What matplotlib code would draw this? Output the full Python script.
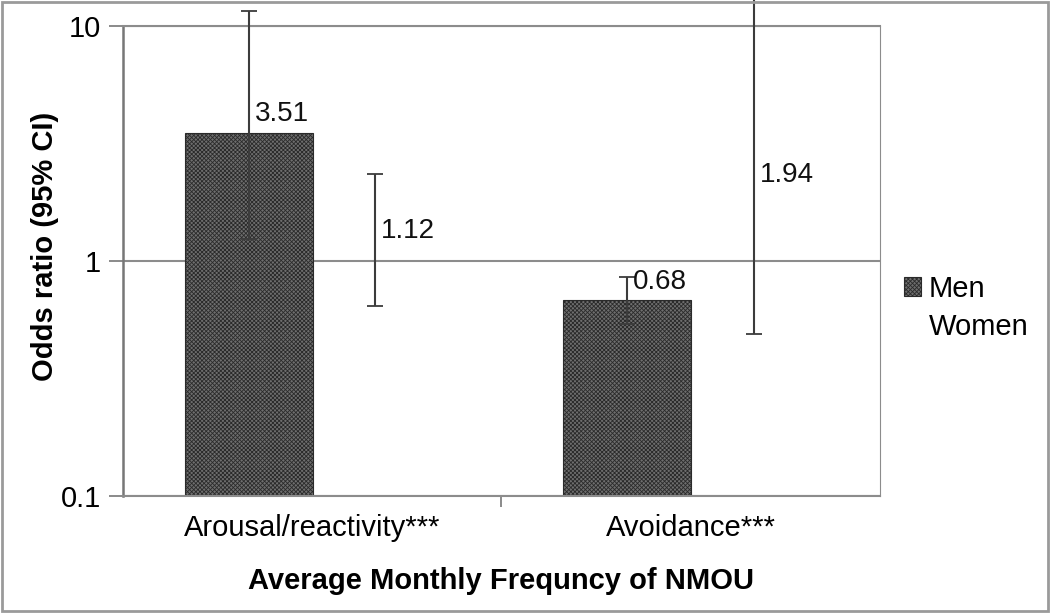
import numpy as np
import matplotlib
matplotlib.use('Agg')
import matplotlib.pyplot as plt
from matplotlib.patches import Rectangle

plt.rcParams['font.family'] = ['Liberation Sans', 'DejaVu Sans']
plt.rcParams['hatch.linewidth'] = 0.6

categorias = ['Arousal/reactivity***', 'Avoidance***']
grupos = ['Men', 'Women']
or_men = [3.51, 0.68]
ci_men_lo = [1.24, 0.54]
ci_men_hi = [11.6, 0.855]
or_women = [1.12, 1.94]
ci_women_lo = [0.645, 0.49]
ci_women_hi = [2.34, 14.0]

x = np.arange(len(categorias))
larg = 0.338
desl = 0.167
base = 0.1  # eixo log comeca em 0.1

fig = plt.figure(figsize=(10.5, 6.13), dpi=100)
ax = fig.add_axes([0.117, 0.191, 0.721, 0.767])

# barras dos homens (hachuradas) e das mulheres (sem preenchimento)
ax.bar(x - desl, np.array(or_men) - base, width=larg, bottom=base, facecolor='#6e6e6e',
       edgecolor='#2a2a2a', hatch='xxxxxxxx', linewidth=0.8, label='Men', zorder=2)
ax.bar(x + desl, np.array(or_women) - base, width=larg, bottom=base, facecolor='none',
       edgecolor='none', label='Women', zorder=2)

# barras de erro (IC 95%)
for xs, v, lo, hi in [(x - desl, or_men, ci_men_lo, ci_men_hi),
                      (x + desl, or_women, ci_women_lo, ci_women_hi)]:
    v = np.array(v)
    err = [v - np.array(lo), np.array(hi) - v]
    eb = ax.errorbar(xs, v, yerr=err, fmt='none', ecolor='#3c3c3c',
                     elinewidth=1.5, capsize=5.5, capthick=1.3, zorder=3)
    for art in eb.lines[1] + eb.lines[2]:
        art.set_clip_on(False)

# rotulos de valor
for xs, v in [(x - desl, or_men), (x + desl, or_women)]:
    for xi, vi in zip(xs, v):
        ax.annotate(f'{vi:.2f}', (xi, vi), xytext=(4, 4), textcoords='offset points',
                    ha='left', va='bottom', fontsize=20, color='#111111', zorder=4)

ax.set_yscale('log')
ax.set_ylim(0.1, 10)
ax.set_xlim(-0.5, 1.5)
ax.set_yticks([0.1, 1, 10])
ax.set_yticklabels(['0.1', '1', '10'])
ax.yaxis.set_minor_locator(matplotlib.ticker.NullLocator())
ax.set_xticks(x)
ax.set_xticklabels(categorias)
ax.set_xticks([0.5], minor=True)
ax.tick_params(axis='x', which='major', length=0, labelsize=21, pad=13)
ax.tick_params(axis='x', which='minor', length=8, color='#777777', width=1.2)
ax.tick_params(axis='y', which='major', length=10, color='#777777', width=1.2,
               labelsize=21, pad=6)
ax.grid(axis='y', which='major', color='#8c8c8c', lw=1.5, zorder=0)

for lado in ['top', 'right', 'bottom', 'left']:
    ax.spines[lado].set_color('#8c8c8c')
ax.spines['left'].set_color('#777777')
ax.spines['left'].set_linewidth(1.8)
ax.spines['bottom'].set_linewidth(1.5)
ax.spines['right'].set_linewidth(0.8)
ax.spines['top'].set_linewidth(1.5)

ax.set_ylabel('Odds ratio (95% CI)', fontsize=21, fontweight='bold')
ax.yaxis.set_label_coords(-0.085, 0.53)
ax.set_xlabel('Average Monthly Frequncy of NMOU', fontsize=21, fontweight='bold', labelpad=18)

leg = fig.legend(loc='center left', bbox_to_anchor=(0.847, 0.498), frameon=False,
                 fontsize=21, handlelength=0.6, handleheight=0.6, handletextpad=0.25,
                 labelspacing=0.35, borderpad=0)

# moldura em volta do grafico
fig.patches.append(Rectangle((0.002, 0.003), 0.996, 0.994, transform=fig.transFigure,
                             fill=False, edgecolor='#9a9a9a', lw=2))

fig.savefig('out.png', dpi=100)
